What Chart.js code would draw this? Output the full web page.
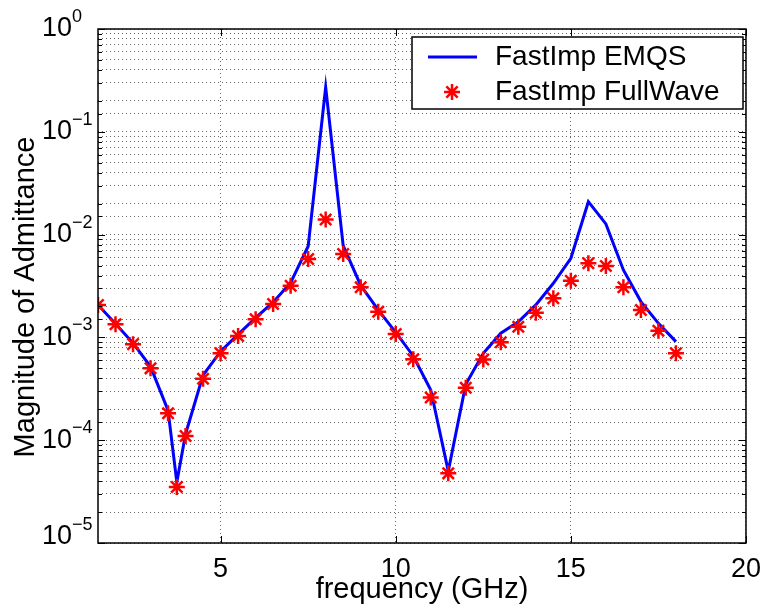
<!DOCTYPE html>
<html>
<head>
<meta charset="utf-8">
<script src="https://cdn.jsdelivr.net/npm/chart.js@4/dist/chart.umd.min.js"></script>
<style>
html,body{margin:0;padding:0;background:#fff}
</style>
</head>
<body>
<canvas id="admChart" width="771" height="613"></canvas>
<script>
// frequency points (GHz)
var freq = [1.5, 2, 2.5, 3, 3.5, 3.75, 4, 4.5, 5, 5.5, 6, 6.5, 7, 7.5, 8, 8.5, 9, 9.5, 10,
            10.5, 11, 11.5, 12, 12.5, 13, 13.5, 14, 14.5, 15, 15.5, 16, 16.5, 17, 17.5, 18];
// FastImp EMQS (line)
var emqs = [2.07e-3, 1.36e-3, 8.8e-4, 5.2e-4, 1.95e-4, 3.9e-5, 1.15e-4, 4.3e-4, 7.3e-4, 1.07e-3,
            1.55e-3, 2.2e-3, 3.4e-3, 7.7e-3, 0.271, 7.8e-3, 3.2e-3, 1.85e-3, 1.12e-3,
            6.6e-4, 3.08e-4, 5.0e-5, 3.5e-4, 7.0e-4, 1.1e-3, 1.42e-3, 2.07e-3, 3.36e-3,
            5.88e-3, 2.09e-2, 1.27e-2, 4.53e-3, 2.23e-3, 1.37e-3, 9.1e-4];
// FastImp FullWave (stars)
var fullwave = [2.07e-3, 1.34e-3, 8.6e-4, 5.0e-4, 1.83e-4, 3.5e-5, 1.10e-4, 3.96e-4, 7.0e-4, 1.03e-3,
                1.50e-3, 2.11e-3, 3.18e-3, 5.79e-3, 1.40e-2, 6.48e-3, 3.07e-3, 1.78e-3, 1.08e-3,
                6.12e-4, 2.6e-4, 4.76e-5, 3.24e-4, 6.1e-4, 8.96e-4, 1.27e-3, 1.74e-3, 2.40e-3,
                3.56e-3, 5.26e-3, 4.95e-3, 3.07e-3, 1.85e-3, 1.16e-3, 7.0e-4];
var xTicks = [5, 10, 15, 20];
var yExps = [0, -1, -2, -3, -4, -5];
var seriesNames = ['FastImp EMQS', 'FastImp FullWave'];

var FONT = '"Liberation Sans", Arial, Helvetica, sans-serif';

function pts(ys){
  return freq.map(function(f, i){ return {x: f, y: ys[i]}; });
}

function starAt(ctx, x, y, r){
  var d = r * Math.SQRT1_2;
  ctx.beginPath();
  ctx.moveTo(x - r, y); ctx.lineTo(x + r, y);
  ctx.moveTo(x, y - r); ctx.lineTo(x, y + r);
  ctx.moveTo(x - d, y - d); ctx.lineTo(x + d, y + d);
  ctx.moveTo(x - d, y + d); ctx.lineTo(x + d, y - d);
  ctx.stroke();
}

var decor = {
  id: 'decor',
  afterDraw: function(chart){
    var ctx = chart.ctx, a = chart.chartArea;
    var xs = chart.scales.x, ys = chart.scales.y;
    ctx.save();
    // inward ticks
    ctx.strokeStyle = '#000';
    ctx.lineWidth = 1;
    ctx.beginPath();
    xTicks.forEach(function(v){
      var px = Math.round(xs.getPixelForValue(v)) + 0.5;
      ctx.moveTo(px, a.bottom); ctx.lineTo(px, a.bottom - 7);
      ctx.moveTo(px, a.top); ctx.lineTo(px, a.top + 7);
    });
    ys.ticks.forEach(function(t){
      var py = Math.round(ys.getPixelForValue(t.value)) + 0.5;
      var len = t.major ? 7 : 4;
      ctx.moveTo(a.left, py); ctx.lineTo(a.left + len, py);
      ctx.moveTo(a.right, py); ctx.lineTo(a.right - len, py);
    });
    ctx.stroke();
    // frame
    ctx.lineWidth = 1.5;
    ctx.strokeRect(a.left, a.top, a.right - a.left, a.bottom - a.top);

    // y tick labels 10^n
    ctx.fillStyle = '#000';
    ctx.textAlign = 'left';
    ctx.textBaseline = 'middle';
    yExps.forEach(function(e){
      var py = ys.getPixelForValue(Math.pow(10, e));
      if (e === -5) py -= 6;
      ctx.font = '27px ' + FONT;
      ctx.fillText('10', 42, py);
      var w = ctx.measureText('10').width;
      ctx.font = '18px ' + FONT;
      ctx.fillText(e === 0 ? '0' : '\u2212' + (-e), 42 + w, py - 12);
    });

    // y title
    ctx.save();
    ctx.translate(26, 297);
    ctx.rotate(-Math.PI / 2);
    ctx.textAlign = 'center';
    ctx.font = '29px ' + FONT;
    ctx.fillText('Magnitude of Admittance', 0, 0);
    ctx.restore();

    // legend
    var lx = 412, ly = 37, lw = 331, lh = 72;
    ctx.fillStyle = '#fff';
    ctx.fillRect(lx, ly, lw, lh);
    ctx.strokeStyle = '#000';
    ctx.lineWidth = 1.5;
    ctx.strokeRect(lx, ly, lw, lh);
    var d0 = chart.data.datasets[0], d1 = chart.data.datasets[1];
    ctx.strokeStyle = d0.borderColor;
    ctx.lineWidth = d0.borderWidth;
    ctx.beginPath();
    ctx.moveTo(428, 57); ctx.lineTo(477, 57);
    ctx.stroke();
    ctx.strokeStyle = d1.borderColor;
    ctx.lineWidth = d1.borderWidth;
    starAt(ctx, 452, 92, d1.pointRadius);
    ctx.fillStyle = '#000';
    ctx.font = '28px ' + FONT;
    ctx.textAlign = 'left';
    ctx.textBaseline = 'middle';
    ctx.fillText(seriesNames[0], 495, 57);
    ctx.fillText(seriesNames[1], 495, 92);
    ctx.restore();
  }
};

var ctx = document.getElementById('admChart').getContext('2d');
var chart = new Chart(ctx, {
  type: 'scatter',
  data: {
    datasets: [
      {
        label: seriesNames[0],
        data: pts(emqs),
        showLine: true,
        borderColor: '#0000ff',
        borderWidth: 3,
        pointRadius: 0,
        tension: 0,
        order: 1
      },
      {
        label: seriesNames[1],
        data: pts(fullwave),
        showLine: false,
        pointStyle: 'star',
        pointRadius: 8,
        borderColor: '#ff0000',
        backgroundColor: '#ff0000',
        borderWidth: 2.5,
        order: 0
      }
    ]
  },
  options: {
    responsive: false,
    animation: false,
    devicePixelRatio: 1,
    layout: { padding: { top: 29, right: 20, left: 0, bottom: 0 } },
    plugins: { legend: { display: false }, tooltip: { enabled: false } },
    scales: {
      x: {
        type: 'linear',
        min: 1.5,
        max: 20,
        afterBuildTicks: function(s){ s.ticks = xTicks.map(function(v){ return {value: v}; }); },
        afterFit: function(s){ s.height = 70; },
        grid: { color: 'rgba(0,0,0,0.6)', lineWidth: 1, drawTicks: false },
        border: { display: false, dash: [1, 3] },
        ticks: { color: '#000', padding: 10, font: { size: 27, family: FONT }, maxRotation: 0 },
        title: { display: true, text: 'frequency (GHz)', color: '#000', font: { size: 29, family: FONT }, padding: { top: 0, bottom: 6 } }
      },
      y: {
        type: 'logarithmic',
        min: 1e-5,
        max: 1,
        afterFit: function(s){ s.width = 98; },
        grid: { color: 'rgba(0,0,0,0.6)', lineWidth: 1, drawTicks: false },
        border: { display: false, dash: [1, 3] },
        ticks: { display: false, autoSkip: false }
      }
    }
  },
  plugins: [decor]
});
</script>
</body>
</html>
